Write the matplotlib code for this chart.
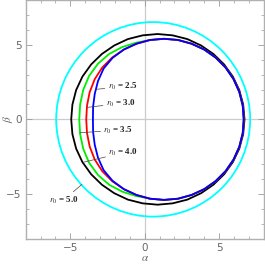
import numpy as np
import matplotlib
matplotlib.use('Agg')
import matplotlib.pyplot as plt
from matplotlib.patches import Circle
from matplotlib.ticker import MultipleLocator

plt.rcParams['mathtext.fontset'] = 'stix'

# upper halves (alpha, beta), right edge -> left edge;
# the lower half is the mirror image
blue_a = [6.66, 6.59, 6.36, 5.97, 5.44, 4.77, 4.00, 3.15, 2.24, 1.30, 0.36, -0.55, -1.40,
          -2.16, -2.76, -3.14, -3.36, -3.47, -3.48]
blue_b = [0.00, 0.93, 1.84, 2.70, 3.47, 4.14, 4.68, 5.07, 5.32, 5.40, 5.32, 5.07, 4.68,
          4.12, 3.41, 2.57, 1.70, 0.84, 0.00]

red_a = [6.66, 6.59, 6.36, 5.97, 5.44, 4.77, 4.00, 3.15, 2.24, 1.30, 0.36, -0.55, -1.40,
         -2.18, -2.85, -3.36, -3.70, -3.88, -3.93]
red_b = [0.00, 0.93, 1.84, 2.70, 3.47, 4.14, 4.68, 5.07, 5.32, 5.40, 5.32, 5.07, 4.68,
         4.15, 3.48, 2.69, 1.82, 0.91, 0.00]

green_a = [6.66, 6.59, 6.36, 5.97, 5.44, 4.77, 4.00, 3.15, 2.24, 1.30, 0.36, -0.57, -1.50,
           -2.38, -3.14, -3.74, -4.13, -4.34, -4.40]
green_b = [0.00, 0.93, 1.84, 2.70, 3.47, 4.14, 4.68, 5.07, 5.32, 5.40, 5.32, 5.14, 4.85,
           4.39, 3.73, 2.91, 1.98, 1.00, 0.00]

black_a = [6.71, 6.62, 6.36, 5.93, 5.34, 4.62, 3.79, 2.87, 1.88, 0.87, -0.14, -1.13, -2.05,
           -2.88, -3.60, -4.19, -4.61, -4.86, -4.94]
black_b = [0.00, 0.99, 1.96, 2.86, 3.68, 4.38, 4.95, 5.38, 5.63, 5.72, 5.63, 5.38, 4.95,
           4.38, 3.68, 2.86, 1.96, 0.99, 0.00]

cyan_center = (0.57, 0.0)
cyan_radius = 6.52

labels = ['2.5', '3.0', '3.5', '4.0', '5.0']
# where each label's text starts, and the point on its curve
label_text_xy = [(-2.5, 2.18), (-2.62, 1.07), (-2.78, -0.72), (-2.45, -2.24), (-6.45, -5.41)]
label_curve_xy = [(-3.30, 2.01), (-3.88, 0.80), (-4.36, -0.90), (-4.14, -2.88), (-4.22, -4.36)]


def closed(a, b):
    a = np.asarray(a)
    b = np.asarray(b)
    return np.r_[a, a[::-1][1:-1]], np.r_[b, -b[::-1][1:-1]]


fig = plt.figure(figsize=(2.65, 2.64), dpi=100)
ax = fig.add_axes([25.7 / 265, 25.3 / 264, 238 / 265, 238.7 / 264])

ax.axhline(0, color='#cccccc', lw=0.9, zorder=0)
ax.axvline(0, color='#cccccc', lw=0.9, zorder=0)

ax.add_patch(Circle(cyan_center, cyan_radius, fill=False, color='#00ffff', lw=1.3, zorder=2))
for a, b, c in ((black_a, black_b, 'black'), (green_a, green_b, '#00ee00'),
                (red_a, red_b, '#ff0000'), (blue_a, blue_b, '#0000ff')):
    x, y = closed(a, b)
    ax.fill(x, y, fill=False, edgecolor=c, lw=1.3, zorder=3, joinstyle='round')

for lab, txy, cxy in zip(labels, label_text_xy, label_curve_xy):
    ax.annotate(r'$r_0$ = ' + lab, xy=cxy, xytext=txy, fontsize=6.5, fontweight='bold',
                family='Liberation Serif', color='#222222', va='center', ha='left',
                arrowprops=dict(arrowstyle='-', color='#444444', lw=0.5, shrinkA=0, shrinkB=0),
                zorder=5)

ax.set_xlim(-8, 8)
ax.set_ylim(-8, 8)
ax.xaxis.set_major_locator(MultipleLocator(5))
ax.yaxis.set_major_locator(MultipleLocator(5))
ax.xaxis.set_minor_locator(MultipleLocator(1))
ax.yaxis.set_minor_locator(MultipleLocator(1))
ax.tick_params(which='both', direction='in', top=True, right=True, colors='#999999',
               labelcolor='#666666', labelsize=7.5, pad=3)
ax.tick_params(which='major', length=4, width=0.6)
ax.tick_params(which='minor', length=2, width=0.5)
for s in ax.spines.values():
    s.set_color('#b0b0b0')
    s.set_linewidth(1.0)

ax.set_xlabel(r'$\alpha$', color='#666666', fontsize=8, va='center')
ax.set_ylabel(r'$\beta$', color='#666666', fontsize=8, va='center')
ax.xaxis.set_label_coords(0.5, -0.08)
ax.yaxis.set_label_coords(-0.076, 0.5)

fig.savefig('out.png', dpi=100)
